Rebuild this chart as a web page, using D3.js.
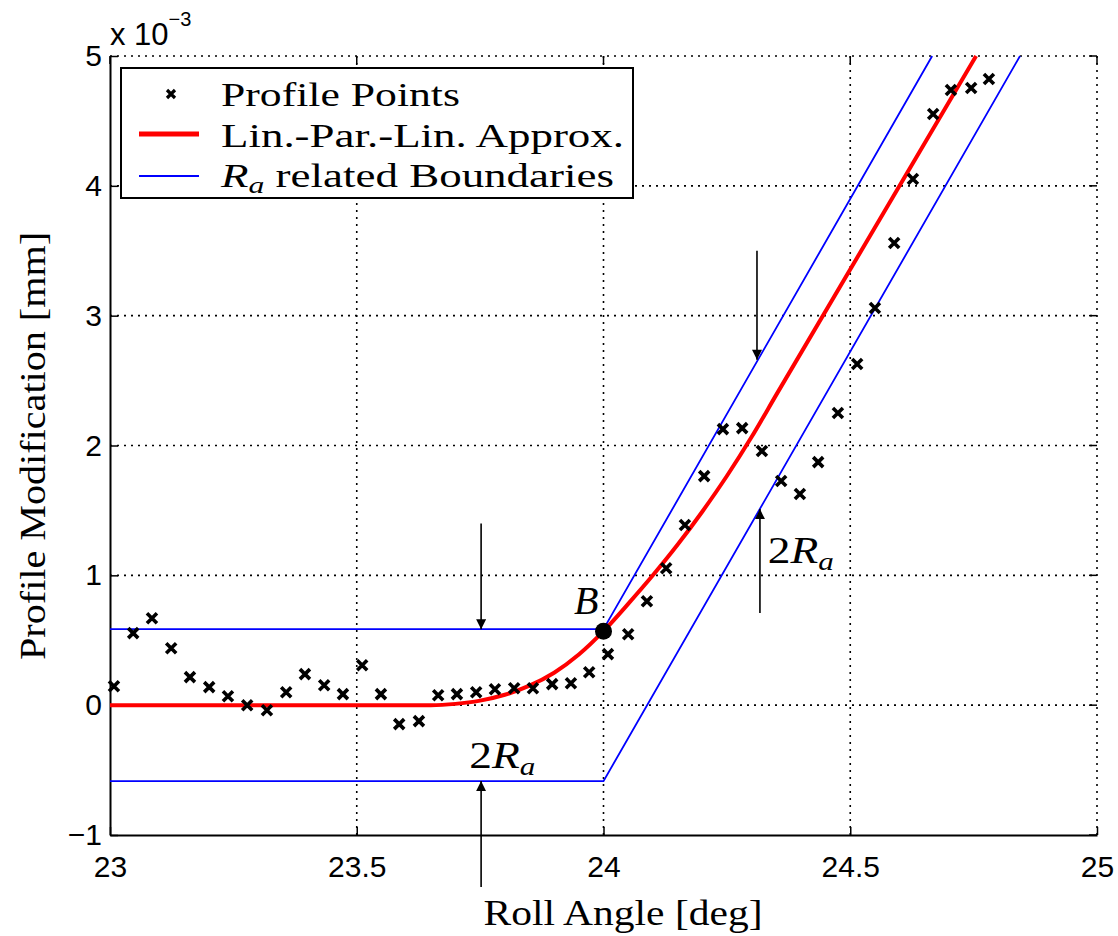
<!DOCTYPE html>
<html>
<head>
<meta charset="utf-8">
<script src="https://cdn.jsdelivr.net/npm/d3@7"></script>
<style>
  body { margin: 0; background: #fff; }
  svg { display: block; }
  .tick text { font-family: "Liberation Sans", Arial, sans-serif; font-size: 30px; fill: #000; }
  .serif { font-family: "Liberation Serif", "Times New Roman", serif; fill: #000; }
</style>
</head>
<body>
<div id="chart"></div>
<script>
// roll angle [deg] / profile modification [x 1e-3 mm] of the measured points
const pointAngles = [23.008, 23.047, 23.085, 23.124, 23.162, 23.201, 23.239, 23.278, 23.318, 23.357,
    23.395, 23.434, 23.472, 23.511, 23.549, 23.586, 23.626, 23.665, 23.703, 23.742,
    23.780, 23.819, 23.857, 23.896, 23.934, 23.971, 24.009, 24.050, 24.088, 24.127,
    24.165, 24.204, 24.242, 24.281, 24.321, 24.360, 24.398, 24.435, 24.475, 24.514,
    24.550, 24.589, 24.627, 24.668, 24.704, 24.745, 24.781]
const pointValues = [0.146, 0.555, 0.670, 0.439, 0.216, 0.139, 0.069, 0.000, -0.039, 0.100,
    0.239, 0.154, 0.085, 0.308, 0.085, -0.146, -0.123, 0.077, 0.085, 0.100,
    0.123, 0.131, 0.131, 0.162, 0.169, 0.254, 0.393, 0.547, 0.801, 1.055,
    1.387, 1.764, 2.126, 2.134, 1.957, 1.726, 1.626, 1.872, 2.250, 2.627,
    3.059, 3.559, 4.052, 4.553, 4.738, 4.753, 4.823]

// lin.-par.-lin. approximation (red)
const approxAngles = [23.0, 23.65, 23.7, 23.75, 23.8, 23.85, 23.9, 23.95, 24.0, 24.05,
    24.1, 24.15, 24.2, 24.25, 24.3, 24.35, 24.755]
const approxValues = [0, 0, 0.01, 0.035, 0.08, 0.15, 0.25, 0.39, 0.57, 0.78,
    1.0, 1.235, 1.49, 1.765, 2.065, 2.39, 5.0]

// Ra related boundaries (blue)
const upperBoundAngles = [23.0, 24.0, 24.666]
const upperBoundValues = [0.585, 0.585, 5.0]
const lowerBoundAngles = [23.0, 24.0, 24.844]
const lowerBoundValues = [-0.585, -0.585, 5.0]

// point B
const pointB = { angle: 24.0, value: 0.57 }

// arrows: [angle, from, to]
const arrows = [
    [23.752, 1.40, 0.585],
    [23.752, -1.40, -0.585],
    [24.311, 3.50, 2.66],
    [24.317, 0.71, 1.51]
]
const raLabels = [
    { angle: 23.728, value: -0.485 },
    { angle: 24.333, value: 1.094 }
]

const xTicks = [23, 23.5, 24, 24.5, 25]
const yTicks = [-1, 0, 1, 2, 3, 4, 5]

const width = 1118, height = 936
const plot = { left: 110, right: 1097, top: 56, bottom: 835 }

const x = d3.scaleLinear().domain([23, 25]).range([plot.left, plot.right])
const y = d3.scaleLinear().domain([-1, 5]).range([plot.bottom, plot.top])

const svg = d3.select("#chart").append("svg")
    .attr("width", width)
    .attr("height", height)

svg.append("rect").attr("width", width).attr("height", height).attr("fill", "#fff")

// grid (dotted)
const grid = svg.append("g")
    .attr("stroke", "#000")
    .attr("stroke-width", 1.6)
    .attr("stroke-dasharray", "2,5")
grid.selectAll(".gx").data(xTicks.slice(1)).join("line")
    .attr("x1", d => x(d)).attr("x2", d => x(d))
    .attr("y1", plot.top).attr("y2", plot.bottom)
grid.selectAll(".gy").data(yTicks.slice(1)).join("line")
    .attr("x1", plot.left).attr("x2", plot.right)
    .attr("y1", d => y(d)).attr("y2", d => y(d))

// axes with inward ticks
svg.append("g")
    .attr("transform", "translate(0," + plot.bottom + ")")
    .call(d3.axisBottom(x).tickValues(xTicks).tickSizeInner(-8).tickSizeOuter(0).tickPadding(21).tickFormat(d3.format("")))
svg.append("g")
    .attr("transform", "translate(" + plot.left + ",0)")
    .call(d3.axisLeft(y).tickValues(yTicks).tickSizeInner(-8).tickSizeOuter(0).tickPadding(8).tickFormat(d => d < 0 ? "\u2212" + Math.abs(d) : d))
svg.selectAll(".domain").attr("stroke", "#000").attr("stroke-width", 2)
svg.selectAll(".tick line").attr("stroke", "#000").attr("stroke-width", 1.5)

// ticks on top and right edges
svg.append("g").selectAll("line").data(xTicks).join("line")
    .attr("x1", d => x(d)).attr("x2", d => x(d))
    .attr("y1", plot.top).attr("y2", plot.top + 8)
    .attr("stroke", "#000").attr("stroke-width", 1.5)
svg.append("g").selectAll("line").data(yTicks).join("line")
    .attr("x1", plot.right - 8).attr("x2", plot.right)
    .attr("y1", d => y(d)).attr("y2", d => y(d))
    .attr("stroke", "#000").attr("stroke-width", 1.5)

// exponent label
const expo = svg.append("text")
    .attr("x", 110).attr("y", 45)
    .style("font-family", "Liberation Sans, Arial, sans-serif")
    .style("font-size", "31px")
expo.append("tspan").text("x 10")
expo.append("tspan").attr("dy", -19).style("font-size", "20px").text("\u22123")

const line = d3.line().x(d => x(d[0])).y(d => y(d[1]))

// boundaries
const bounds = [
    d3.zip(upperBoundAngles, upperBoundValues),
    d3.zip(lowerBoundAngles, lowerBoundValues)
]
svg.append("g").selectAll("path").data(bounds).join("path")
    .attr("d", line)
    .attr("fill", "none")
    .attr("stroke", "#0000ff")
    .attr("stroke-width", 1.8)

// approximation
svg.append("path")
    .datum(d3.zip(approxAngles, approxValues))
    .attr("d", line.curve(d3.curveMonotoneX))
    .attr("fill", "none")
    .attr("stroke", "#ff0000")
    .attr("stroke-width", 4)

// profile points
const cross = (cx, cy, s) => `M${cx - s},${cy - s}L${cx + s},${cy + s}M${cx - s},${cy + s}L${cx + s},${cy - s}`
svg.append("g").selectAll("path").data(d3.zip(pointAngles, pointValues)).join("path")
    .attr("d", d => cross(x(d[0]), y(d[1]), 5))
    .attr("stroke", "#000")
    .attr("stroke-width", 3.6)

// point B
svg.append("circle")
    .attr("cx", x(pointB.angle)).attr("cy", y(pointB.value))
    .attr("r", 8.5).attr("fill", "#000")
svg.append("text").attr("class", "serif")
    .attr("x", x(23.94)).attr("y", y(0.70))
    .style("font-size", "40px").style("font-style", "italic")
    .text("B")

// arrows
svg.append("defs").append("marker")
    .attr("id", "head")
    .attr("viewBox", "0 0 10 10")
    .attr("refX", 10).attr("refY", 5)
    .attr("markerWidth", 16).attr("markerHeight", 10)
    .attr("markerUnits", "userSpaceOnUse")
    .attr("orient", "auto")
    .append("path").attr("d", "M0,0L10,5L0,10Z").attr("fill", "#000")
svg.append("g").selectAll("line").data(arrows).join("line")
    .attr("x1", d => x(d[0])).attr("x2", d => x(d[0]))
    .attr("y1", d => y(d[1])).attr("y2", d => y(d[2]))
    .attr("stroke", "#000").attr("stroke-width", 1.6)
    .attr("marker-end", "url(#head)")

// 2Ra labels
raLabels.forEach(l => {
    const t = svg.append("text").attr("class", "serif")
        .attr("x", x(l.angle)).attr("y", y(l.value))
        .attr("textLength", 66).attr("lengthAdjust", "spacingAndGlyphs")
        .style("font-size", "38px")
    t.append("tspan").text("2")
    t.append("tspan").style("font-style", "italic").text("R")
    t.append("tspan").style("font-style", "italic").style("font-size", "26px").attr("dy", 7).text("a")
})

// legend
const legend = svg.append("g")
legend.append("rect")
    .attr("x", 121).attr("y", 68).attr("width", 512).attr("height", 130)
    .attr("fill", "#fff").attr("stroke", "#000").attr("stroke-width", 2)
legend.append("path").attr("d", cross(171, 94, 4)).attr("stroke", "#000").attr("stroke-width", 3.2)
legend.append("line").attr("x1", 139).attr("x2", 199).attr("y1", 134).attr("y2", 134)
    .attr("stroke", "#ff0000").attr("stroke-width", 5)
legend.append("line").attr("x1", 139).attr("x2", 199).attr("y1", 176).attr("y2", 176)
    .attr("stroke", "#0000ff").attr("stroke-width", 1.8)
const legendFont = "34px"
legend.append("text").attr("class", "serif").attr("x", 221).attr("y", 106).style("font-size", legendFont)
    .attr("textLength", 239).attr("lengthAdjust", "spacingAndGlyphs")
    .text("Profile Points")
legend.append("text").attr("class", "serif").attr("x", 221).attr("y", 147).style("font-size", legendFont)
    .attr("textLength", 403).attr("lengthAdjust", "spacingAndGlyphs")
    .text("Lin.-Par.-Lin.  Approx.")
const l3 = legend.append("text").attr("class", "serif").attr("x", 221).attr("y", 187).style("font-size", legendFont)
    .attr("textLength", 393).attr("lengthAdjust", "spacingAndGlyphs")
l3.append("tspan").style("font-style", "italic").text("R")
l3.append("tspan").style("font-style", "italic").style("font-size", "24px").attr("dy", 6).text("a")
l3.append("tspan").attr("dy", -6).text(" related Boundaries")

// axis labels
svg.append("text").attr("class", "serif")
    .attr("x", 623).attr("y", 925)
    .attr("text-anchor", "middle")
    .attr("textLength", 279).attr("lengthAdjust", "spacingAndGlyphs")
    .style("font-size", "35px")
    .text("Roll Angle [deg]")
svg.append("text").attr("class", "serif")
    .attr("transform", "translate(45,446) rotate(-90)")
    .attr("text-anchor", "middle")
    .attr("textLength", 428).attr("lengthAdjust", "spacingAndGlyphs")
    .style("font-size", "35px")
    .text("Profile Modification [mm]")
</script>
</body>
</html>
